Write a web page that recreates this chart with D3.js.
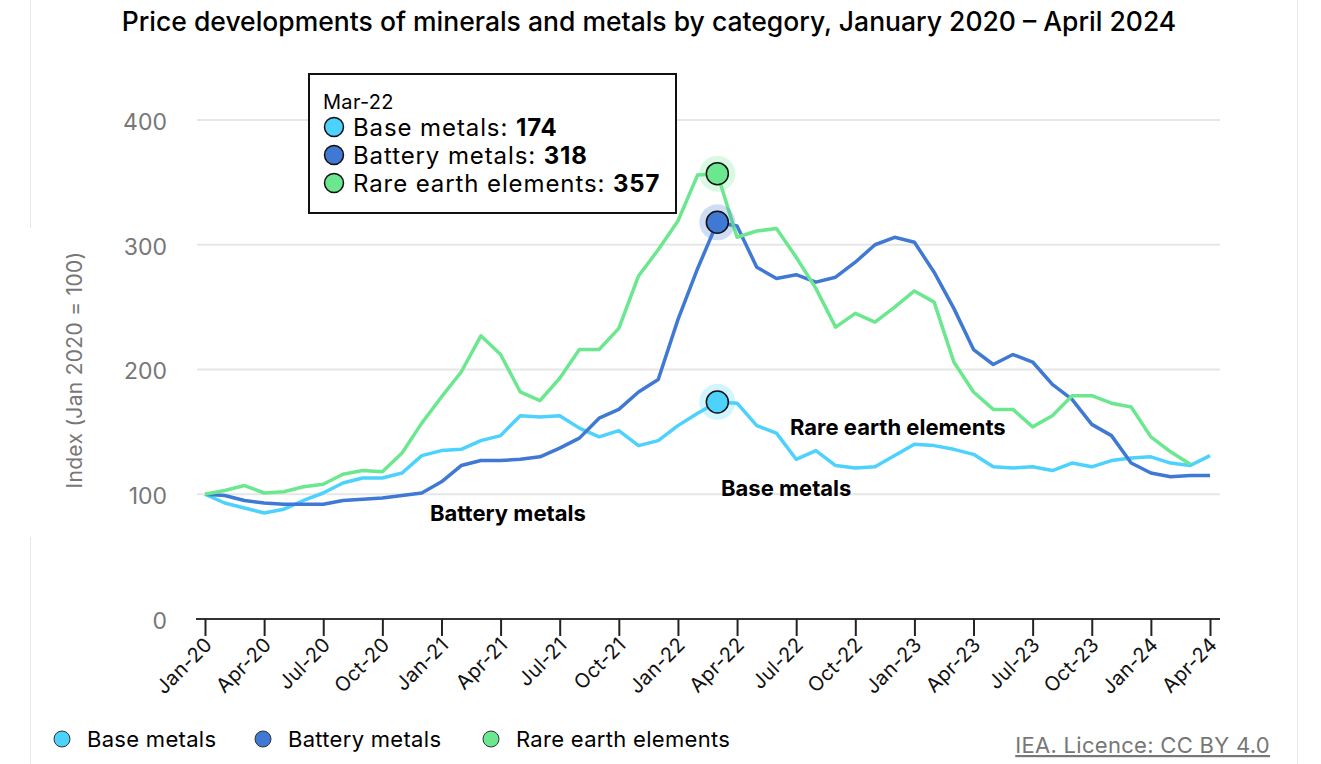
<!DOCTYPE html>
<html>
<head>
<meta charset="utf-8">
<script src="https://cdn.jsdelivr.net/npm/d3@7"></script>
<style>
  body { margin:0; background:#fff; }
  svg { display:block; font-family:"Inter", "Noto Sans", sans-serif; }
</style>
</head>
<body>
<svg id="chart" width="1321" height="764"></svg>
<script>

var months = ["Jan-20","Feb-20","Mar-20","Apr-20","May-20","Jun-20","Jul-20","Aug-20","Sep-20","Oct-20","Nov-20","Dec-20",
	"Jan-21","Feb-21","Mar-21","Apr-21","May-21","Jun-21","Jul-21","Aug-21","Sep-21","Oct-21","Nov-21","Dec-21",
	"Jan-22","Feb-22","Mar-22","Apr-22","May-22","Jun-22","Jul-22","Aug-22","Sep-22","Oct-22","Nov-22","Dec-22",
	"Jan-23","Feb-23","Mar-23","Apr-23","May-23","Jun-23","Jul-23","Aug-23","Sep-23","Oct-23","Nov-23","Dec-23",
	"Jan-24","Feb-24","Mar-24","Apr-24"];

var baseMetals = [100,93,89,85,88,95,101,109,113,113,117,131,
	135,136,143,147,163,162,163,153,146,151,139,143,
	155,165,174,173,155,149,128,135,123,121,122,131,
	140,139,136,132,122,121,122,119,125,122,127,129,
	130,125,123,131];

var batteryMetals = [100,99,95,93,92,92,92,95,96,97,99,101,
	110,123,127,127,128,130,137,145,161,168,182,192,
	240,281,318,315,282,273,276,270,274,286,300,306,
	302,278,249,216,204,212,206,188,176,156,147,125,
	117,114,115,115];

var rareEarths = [100,103,107,101,102,106,108,116,119,118,133,157,
	178,198,227,212,182,175,193,216,216,233,275,296,
	319,356,357,306,311,313,290,265,234,245,238,250,
	263,254,206,182,168,168,154,163,179,179,173,170,
	146,134,124];

var yTicks = [0,100,200,300,400];
var hoverIndex = 26;

var series = [
	{name:"Base metals", values:baseMetals, color:"#4cd2fc", label:{x:721, y:496}},
	{name:"Battery metals", values:batteryMetals, color:"#3f79d3", label:{x:430, y:521}},
	{name:"Rare earth elements", values:rareEarths, color:"#6be88f", label:{x:790, y:435}}
];

var svg = d3.select("#chart");

// frame lines from the embedding page
svg.append("line").attr("x1",30.5).attr("x2",30.5).attr("y1",0).attr("y2",228).attr("stroke","#e8e8e8");
svg.append("line").attr("x1",30.5).attr("x2",30.5).attr("y1",537).attr("y2",764).attr("stroke","#e8e8e8");
svg.append("line").attr("x1",1297.5).attr("x2",1297.5).attr("y1",0).attr("y2",764).attr("stroke","#e8e8e8");

var x = d3.scaleLinear().domain([0, months.length - 1]).range([205, 1210]);
var y = d3.scaleLinear().domain([0, 400]).range([619, 120]);

svg.append("text")
	.attr("x", 649).attr("y", 31)
	.attr("text-anchor","middle")
	.style("font-size","26.5px").style("font-weight",500)
	.attr("fill","#000")
	.text("Price developments of minerals and metals by category, January 2020 \u2013 April 2024");

// gridlines
svg.append("g").selectAll("line")
	.data(yTicks.filter(function(d){ return d > 0; }))
	.enter().append("line")
	.attr("x1",197).attr("x2",1220)
	.attr("y1",function(d){ return y(d); }).attr("y2",function(d){ return y(d); })
	.attr("stroke","#e6e6e6").attr("stroke-width",2);

// y axis
var yAxis = svg.append("g")
	.attr("transform","translate(167,2)")
	.call(d3.axisLeft(y).tickValues(yTicks).tickSize(0).tickPadding(0));
yAxis.select(".domain").remove();
yAxis.selectAll("text")
	.attr("fill","#777").style("font-size","23px")
	.style("font-family","Inter, sans-serif");

svg.append("text")
	.attr("transform","translate(82,370) rotate(-90)")
	.attr("text-anchor","middle")
	.attr("fill","#777").style("font-size","21px")
	.style("letter-spacing","0.3px")
	.text("Index (Jan 2020 = 100)");

// x axis
var quarterIdx = d3.range(0, months.length, 3);
var xAxis = svg.append("g")
	.attr("transform","translate(0,619)")
	.call(d3.axisBottom(x).tickValues(quarterIdx).tickSize(17).tickPadding(4)
		.tickFormat(function(i){ return months[i]; }));
xAxis.select(".domain").attr("d","M196,0H1220").attr("stroke","#333").attr("stroke-width",2);
xAxis.selectAll(".tick line").attr("stroke","#222").attr("stroke-width",2);
xAxis.selectAll(".tick text")
	.attr("fill","#111").style("font-size","20px")
	.style("letter-spacing","0.3px")
	.style("font-family","Inter, sans-serif")
	.attr("text-anchor","end")
	.attr("transform","translate(3,22) rotate(-45)")
	.attr("dy","0.35em").attr("y",0).attr("x",0);

// lines
var line = d3.line()
	.x(function(d, i){ return x(i); })
	.y(function(d){ return y(d); });

svg.append("g").selectAll("path")
	.data(series)
	.enter().append("path")
	.attr("d", function(s){ return line(s.values); })
	.attr("fill","none")
	.attr("stroke", function(s){ return s.color; })
	.attr("stroke-width",3.5)
	.attr("stroke-linejoin","round");

// inline labels
svg.append("g").selectAll("text")
	.data(series)
	.enter().append("text")
	.attr("x", function(s){ return s.label.x; })
	.attr("y", function(s){ return s.label.y; })
	.style("font-size","22px").style("font-weight",700)
	.attr("fill","#000")
	.text(function(s){ return s.name; });

// hover markers
var hov = svg.append("g").selectAll("g")
	.data(series)
	.enter().append("g")
	.attr("transform", function(s){ return "translate(" + x(hoverIndex) + "," + y(s.values[hoverIndex]) + ")"; });
hov.append("circle").attr("r",18)
	.attr("fill", function(s){ return s.color; }).attr("opacity",0.25);
hov.append("circle").attr("r",11)
	.attr("fill", function(s){ return s.color; })
	.attr("stroke","#111").attr("stroke-width",1.5);

// tooltip
var tip = svg.append("g").attr("transform","translate(309,74)");
tip.append("rect").attr("width",367).attr("height",139)
	.attr("fill","#fff").attr("stroke","#111").attr("stroke-width",2);
tip.append("text").attr("x",14).attr("y",35)
	.style("font-size","20px").style("letter-spacing","0.3px").attr("fill","#000")
	.text(months[hoverIndex]);
var rows = tip.selectAll("g.row")
	.data(series)
	.enter().append("g")
	.attr("class","row")
	.attr("transform", function(s, i){ return "translate(0," + (53 + i * 28) + ")"; });
rows.append("circle").attr("cx",25).attr("cy",0).attr("r",9.5)
	.attr("fill", function(s){ return s.color; })
	.attr("stroke","#111").attr("stroke-width",1.5);
var rt = rows.append("text").attr("x",44).attr("y",9)
	.style("font-size","24px").style("letter-spacing","0.9px").attr("fill","#000");
rt.append("tspan").text(function(s){ return s.name + ": "; });
rt.append("tspan").style("font-weight",700)
	.text(function(s){ return s.values[hoverIndex]; });

// legend
var legX = [62, 263, 491];
var leg = svg.append("g").selectAll("g")
	.data(series)
	.enter().append("g")
	.attr("transform", function(s, i){ return "translate(" + legX[i] + ",739)"; });
leg.append("circle").attr("r",8)
	.attr("fill", function(s){ return s.color; })
	.attr("stroke","#333").attr("stroke-width",1);
leg.append("text").attr("x",25).attr("y",8)
	.style("font-size","22px").style("letter-spacing","0.3px").attr("fill","#000")
	.text(function(s){ return s.name; });

svg.append("text")
	.attr("x",1270).attr("y",753)
	.attr("text-anchor","end")
	.style("font-size","22px").style("letter-spacing","0.3px").attr("fill","#777")
	.style("text-decoration","underline")
	.text("IEA. Licence: CC BY 4.0");

</script>
</body>
</html>
